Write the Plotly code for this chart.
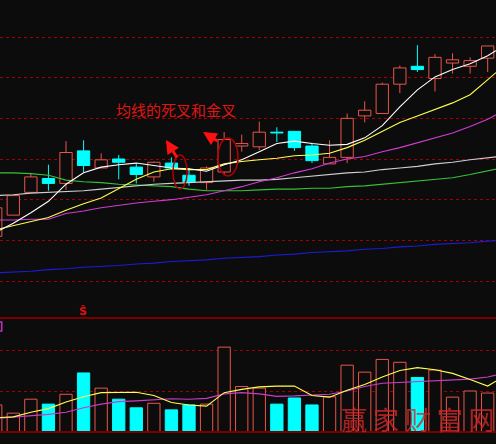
import plotly.graph_objects as go

# ---- daily bars (day index, open/high/low/close) ----
days = list(range(-1, 28))
open_ = [7.55, 7.81, 8.09, 8.26, 8.20, 8.60, 8.39, 8.50, 8.40, 8.28,
         8.45, 8.30, 8.21, 8.34, 8.66, 8.65, 8.83, 8.84, 8.66, 8.44,
         8.52, 9.03, 9.06, 9.42, 9.64, 9.49, 9.68, 9.64, 9.74]
high = [7.90, 8.05, 8.33, 8.43, 8.72, 8.73, 8.57, 8.55, 8.45, 8.47,
        8.52, 8.39, 8.41, 8.83, 8.80, 8.96, 8.89, 8.84, 8.70, 8.73,
        9.06, 9.21, 9.44, 9.65, 9.90, 9.79, 9.80, 9.75, 9.89]
low = [7.55, 7.81, 8.09, 8.11, 8.12, 8.34, 8.39, 8.25, 8.20, 8.22,
       8.37, 8.17, 8.12, 8.30, 8.59, 8.61, 8.71, 8.60, 8.45, 8.44,
       8.45, 8.95, 9.06, 9.31, 9.57, 9.33, 9.55, 9.55, 9.57]
close = [7.90, 8.05, 8.28, 8.20, 8.58, 8.42, 8.49, 8.46, 8.31, 8.46,
         8.39, 8.22, 8.39, 8.74, 8.69, 8.83, 8.82, 8.64, 8.48, 8.52,
         9.00, 9.10, 9.42, 9.62, 9.60, 9.75, 9.72, 9.71, 9.89]
volume = [6.6, 4.6, 8.0, 6.8, 9.2, 14.4, 10.7, 8.0, 5.9, 7.0,
          5.4, 6.6, 6.8, 20.7, 11.1, 10.7, 6.8, 8.3, 6.6, 8.6,
          16.3, 14.6, 17.7, 17.0, 13.3, 15.1, 8.5, 10.0, 9.5]

# ---- moving averages (one value per day, running one day past the last bar) ----
ma_days = list(range(-1, 29))
ma5 = [7.60, 7.71, 7.84, 7.98, 8.19, 8.33, 8.40, 8.43, 8.45, 8.42,
       8.39, 8.38, 8.35, 8.43, 8.49, 8.59, 8.69, 8.72, 8.69, 8.67,
       8.68, 8.76, 8.91, 9.14, 9.35, 9.51, 9.60, 9.67, 9.77, 9.90]
ma10 = [7.63, 7.68, 7.73, 7.78, 7.87, 7.95, 8.02, 8.13, 8.25, 8.34,
        8.38, 8.37, 8.37, 8.44, 8.47, 8.49, 8.51, 8.54, 8.55, 8.57,
        8.64, 8.73, 8.84, 8.95, 9.03, 9.11, 9.19, 9.29, 9.47, 9.66]
ma20 = [7.75, 7.75, 7.76, 7.76, 7.83, 7.86, 7.90, 7.93, 7.96, 7.98,
        8.00, 8.03, 8.06, 8.11, 8.16, 8.22, 8.27, 8.33, 8.38, 8.45,
        8.50, 8.53, 8.59, 8.64, 8.70, 8.76, 8.82, 8.90, 8.99, 9.10]
ma30 = [8.05, 8.06, 8.08, 8.09, 8.10, 8.11, 8.13, 8.15, 8.17, 8.19,
        8.20, 8.21, 8.22, 8.23, 8.24, 8.24, 8.25, 8.27, 8.29, 8.31,
        8.33, 8.34, 8.37, 8.39, 8.41, 8.44, 8.46, 8.49, 8.51, 8.54]
ma60 = [8.33, 8.33, 8.32, 8.30, 8.24, 8.22, 8.21, 8.19, 8.18, 8.17,
        8.16, 8.13, 8.11, 8.11, 8.11, 8.12, 8.13, 8.13, 8.14, 8.14,
        8.16, 8.17, 8.19, 8.21, 8.23, 8.25, 8.27, 8.31, 8.35, 8.40]
ma120 = [7.10, 7.11, 7.12, 7.14, 7.15, 7.17, 7.18, 7.19, 7.21, 7.22,
         7.24, 7.25, 7.26, 7.28, 7.29, 7.30, 7.32, 7.33, 7.35, 7.36,
         7.37, 7.39, 7.40, 7.42, 7.43, 7.45, 7.46, 7.47, 7.49, 7.50]
vol_ma5 = [3.5, 3.7, 4.8, 5.7, 7.3, 8.6, 9.6, 9.7, 9.7, 8.9,
           7.2, 6.6, 6.3, 9.6, 10.4, 11.0, 11.2, 11.2, 8.9, 8.5,
           10.2, 11.6, 13.4, 15.0, 15.7, 15.2, 14.3, 12.8, 11.2, 13.7]
vol_ma10 = [3.3, 3.6, 3.9, 4.3, 4.8, 5.9, 6.8, 7.4, 7.6, 7.8,
            8.1, 8.0, 8.2, 9.3, 9.6, 9.3, 8.7, 8.8, 9.0, 9.2,
            10.0, 11.1, 11.9, 12.1, 12.2, 12.4, 12.7, 12.9, 13.4, 14.4]

price_grid = [7.0, 7.5, 8.0, 8.5, 9.0, 9.5, 10.0]
volume_grid = [10, 20]

BG = "#0c0c0c"
UP = "#e8554c"
DOWN = "#00ffff"
GRID = "#a00000"
FRAME = "#7a0000"
BAR_W = 0.7

is_up = [c > o for o, c in zip(open_, close)]
body_lo = [min(o, c) for o, c in zip(open_, close)]
body_hi = [max(o, c) for o, c in zip(open_, close)]

fig = go.Figure()

# candle bodies: hollow red when the close is higher, solid cyan otherwise
fig.add_trace(go.Bar(
    x=days, y=[h - l for h, l in zip(body_hi, body_lo)], base=body_lo,
    width=BAR_W,
    marker=dict(
        color=[BG if u else DOWN for u in is_up],
        line=dict(color=[UP if u else DOWN for u in is_up], width=1),
    ),
    xaxis="x", yaxis="y", hoverinfo="skip",
))

# wicks: from the low up to the body and from the body up to the high
for want_up, col in [(True, UP), (False, DOWN)]:
    wx, wy = [], []
    for d, u, lo, hi, bl, bh in zip(days, is_up, low, high, body_lo, body_hi):
        if u != want_up:
            continue
        wx += [d, d, None, d, d, None]
        wy += [lo, bl, None, bh, hi, None]
    fig.add_trace(go.Scatter(
        x=wx, y=wy, mode="lines", line=dict(color=col, width=1),
        xaxis="x", yaxis="y", hoverinfo="skip",
    ))

ma_lines = [
    (ma120, "#1c1cd8"),
    (ma60, "#38c038"),
    (ma30, "#cfcfcf"),
    (ma20, "#d23cd2"),
    (ma10, "#ffff50"),
    (ma5, "#ffffff"),
]
for vals, col in ma_lines:
    fig.add_trace(go.Scatter(
        x=ma_days, y=vals, mode="lines",
        line=dict(color=col, width=1.1),
        xaxis="x", yaxis="y", hoverinfo="skip",
    ))

# volume bars share the up/down colouring of the candles
fig.add_trace(go.Bar(
    x=days, y=volume, width=BAR_W,
    marker=dict(
        color=[BG if u else DOWN for u in is_up],
        line=dict(color=[UP if u else DOWN for u in is_up], width=1),
    ),
    xaxis="x", yaxis="y2", hoverinfo="skip",
))
for vals, col in [(vol_ma10, "#c83cc8"), (vol_ma5, "#ffff50")]:
    fig.add_trace(go.Scatter(
        x=ma_days, y=vals, mode="lines",
        line=dict(color=col, width=1.1),
        xaxis="x", yaxis="y2", hoverinfo="skip",
    ))

PRICE_DOMAIN = [0.28378, 1.0]
VOL_DOMAIN = [0.02703, 0.28378]

fig.update_layout(
    width=496, height=444,
    margin=dict(l=0, r=0, t=0, b=0),
    paper_bgcolor=BG, plot_bgcolor=BG,
    showlegend=False,
    barmode="overlay",
    xaxis=dict(range=[-0.757, 27.473], visible=False, fixedrange=True),
    yaxis=dict(domain=PRICE_DOMAIN, range=[6.5451, 10.4551],
               tickvals=price_grid, showticklabels=False, ticks="",
               showgrid=True, gridcolor=GRID, griddash="dot", gridwidth=1,
               zeroline=False, showline=False, fixedrange=True),
    yaxis2=dict(domain=VOL_DOMAIN, range=[0, 27.805], anchor="x",
                tickvals=volume_grid, showticklabels=False, ticks="",
                showgrid=True, gridcolor=GRID, griddash="dot", gridwidth=1,
                zeroline=False, showline=False, fixedrange=True),
    shapes=[
        # panel separators
        dict(type="line", xref="paper", yref="paper", x0=0, x1=1,
             y0=PRICE_DOMAIN[0], y1=PRICE_DOMAIN[0],
             line=dict(color=FRAME, width=2)),
        dict(type="line", xref="paper", yref="paper", x0=0, x1=1,
             y0=VOL_DOMAIN[0], y1=VOL_DOMAIN[0],
             line=dict(color=FRAME, width=2)),
        # small indicator tag at the left of the volume panel
        dict(type="rect", xref="paper", yref="paper", x0=-0.02, x1=0.0035,
             y0=0.2545, y1=0.2748, line=dict(color="#c030c0", width=1.5)),
        # rings around the two crossings
        dict(type="circle", xref="x", yref="y", x0=9.09, x1=9.89,
             y0=8.131, y1=8.549, line=dict(color="#b00000", width=1.5)),
        dict(type="circle", xref="x", yref="y", x0=11.65, x1=12.79,
             y0=8.291, y1=8.758, line=dict(color="#b00000", width=1.5)),
    ],
    annotations=[
        dict(text="均线的死叉和金叉", x=9.26, y=9.11, xref="x", yref="y",
             xanchor="center", yanchor="middle", showarrow=False,
             font=dict(family="Noto Sans CJK SC", size=15, color="#e01414")),
        dict(text="", x=8.69, y=8.734, xref="x", yref="y",
             showarrow=True, ax=12, ay=19, arrowcolor="#ff1010",
             arrowwidth=3, arrowhead=2, arrowsize=0.9, standoff=0),
        dict(text="", x=10.80, y=8.832, xref="x", yref="y",
             showarrow=True, ax=16, ay=10, arrowcolor="#ff1010",
             arrowwidth=3, arrowhead=2, arrowsize=0.9, standoff=0),
        dict(text="<b>Ŝ</b>", x=3.97, y=6.62, xref="x", yref="y",
             xanchor="center", yanchor="middle", showarrow=False,
             font=dict(family="DejaVu Sans", size=11, color="#e01010")),
        dict(text="赢 家 财 富 网", x=0.842, y=0.057, xref="paper", yref="paper",
             xanchor="center", yanchor="middle", showarrow=False,
             font=dict(family="Noto Sans CJK SC", size=26,
                       color="rgba(215,40,40,0.8)")),
    ],
)

fig.write_html("out.html")
